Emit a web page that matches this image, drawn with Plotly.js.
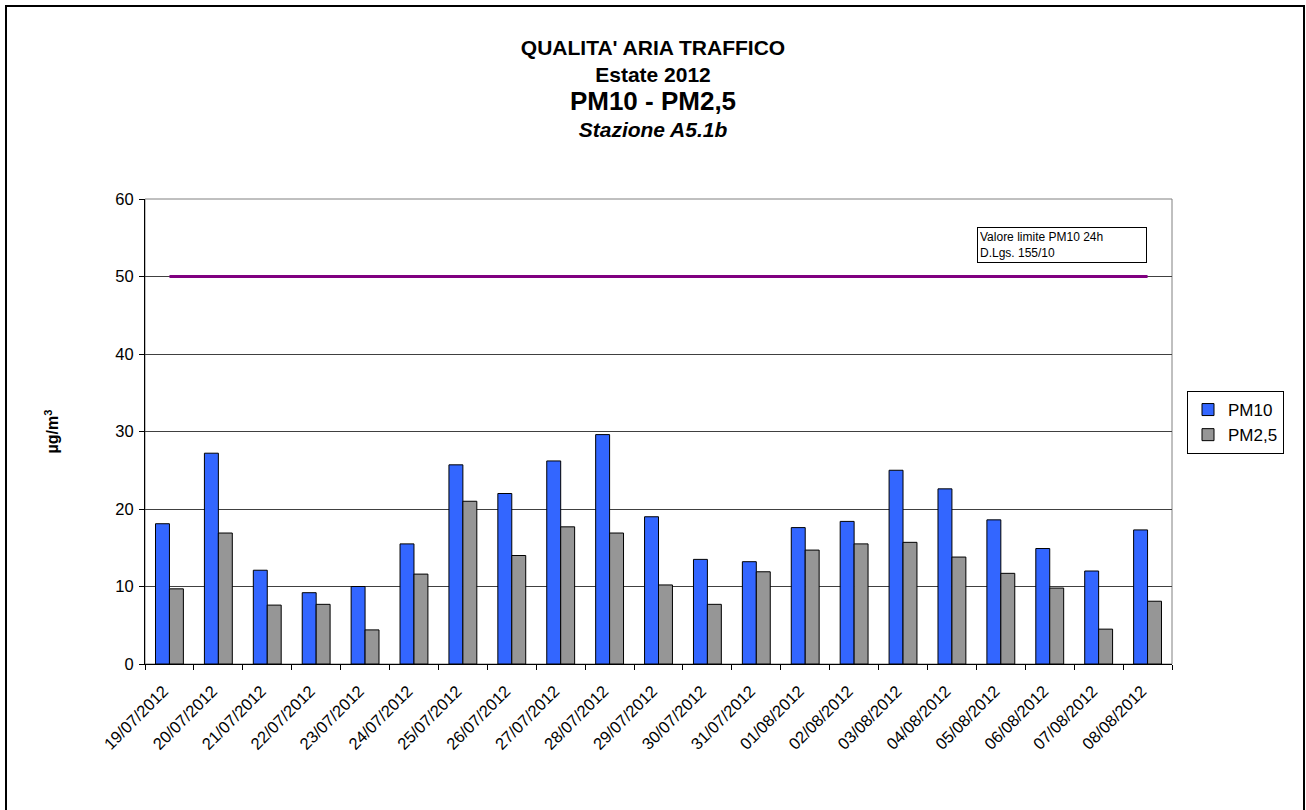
<!DOCTYPE html>
<html>
<head>
<meta charset="utf-8">
<script src="https://cdn.plot.ly/plotly-3.0.1.min.js"></script>
<style>
  html, body { margin: 0; padding: 0; background: #ffffff; }
  #chart { width: 1306px; height: 810px; }
</style>
</head>
<body>
<div id="chart"></div>
<script>
// ---- data ----
const dates = [
  "19/07/2012", "20/07/2012", "21/07/2012", "22/07/2012", "23/07/2012",
  "24/07/2012", "25/07/2012", "26/07/2012", "27/07/2012", "28/07/2012",
  "29/07/2012", "30/07/2012", "31/07/2012", "01/08/2012", "02/08/2012",
  "03/08/2012", "04/08/2012", "05/08/2012", "06/08/2012", "07/08/2012",
  "08/08/2012"
];
const pm10 = [18.1, 27.2, 12.1, 9.2, 10.0, 15.5, 25.7, 22.0, 26.2, 29.6, 19.0,
              13.5, 13.2, 17.6, 18.4, 25.0, 22.6, 18.6, 14.9, 12.0, 17.3];
const pm25 = [9.7, 16.9, 7.6, 7.7, 4.4, 11.6, 21.0, 14.0, 17.7, 16.9, 10.2,
              7.7, 11.9, 14.7, 15.5, 15.7, 13.8, 11.7, 9.8, 4.5, 8.1];
const limitValue = 50;
const limitSeries = dates.map(() => limitValue);
const yTicks = [0, 10, 20, 30, 40, 50, 60];

// ---- layout helpers (pixel -> paper) ----
const W = 1306, H = 810;
const M = { l: 145, r: 134, t: 199, b: 146 };
const PW = W - M.l - M.r, PH = H - M.t - M.b;
const px = x => (x - M.l) / PW;
const py = y => (H - M.b - y) / PH;

const FONT = "Liberation Sans, Arial, sans-serif";

const traces = [
  {
    type: "bar", name: "PM10", x: dates, y: pm10,
    marker: { color: "#3366FF", line: { color: "#000000", width: 1 } },
    hoverinfo: "x+y+name"
  },
  {
    type: "bar", name: "PM2,5", x: dates, y: pm25,
    marker: { color: "#969696", line: { color: "#000000", width: 1 } },
    hoverinfo: "x+y+name"
  },
  {
    type: "scatter", mode: "lines", name: "Valore limite PM10 24h",
    x: dates, y: limitSeries, showlegend: false,
    line: { color: "#800080", width: 3 }
  }
];

const layout = {
  width: W, height: H,
  margin: M,
  paper_bgcolor: "#ffffff",
  plot_bgcolor: "#ffffff",
  font: { family: FONT, color: "#000000", size: 16 },
  title: {
    text: "<b>QUALITA' ARIA TRAFFICO</b><br><b>Estate 2012</b><br>" +
          "<b><span style='font-size:26px'>PM10 - PM2,5</span></b><br><b><i>Stazione A5.1b</i></b>",
    font: { family: FONT, size: 21, color: "#000000" },
    x: 0.5, xref: "container", xanchor: "center",
    y: 1 - 55 / H, yref: "container", yanchor: "top"
  },
  barmode: "group",
  bargap: 0.43,
  bargroupgap: 0,
  showlegend: true,
  legend: {
    x: px(1187), y: py(391), xanchor: "left", yanchor: "top",
    bordercolor: "#000000", borderwidth: 1, bgcolor: "#ffffff",
    font: { family: FONT, size: 17, color: "#000000" },
    traceorder: "normal", itemwidth: 30
  },
  xaxis: {
    type: "category",
    tickangle: -45,
    tickson: "boundaries",
    ticks: "outside", ticklen: 5, tickcolor: "#000000", tickwidth: 1,
    showline: true, linecolor: "#000000", linewidth: 1,
    showgrid: false, zeroline: false,
    tickfont: { family: FONT, size: 16.5, color: "#000000" },
    ticklabelstandoff: 10,
    ticklabelshift: -6,
    automargin: false
  },
  yaxis: {
    range: [0, 60],
    tickvals: yTicks,
    ticks: "outside", ticklen: 5, tickcolor: "#000000", tickwidth: 1,
    showline: true, linecolor: "#000000", linewidth: 1,
    showgrid: true, gridcolor: "#404040", gridwidth: 1,
    zeroline: false,
    tickfont: { family: FONT, size: 16.5, color: "#000000" },
    ticklabelstandoff: 2,
    title: {
      text: "<b>µg/m<sup>3</sup></b>",
      font: { family: FONT, size: 16, color: "#000000" },
      standoff: 52
    },
    automargin: false
  },
  shapes: [
    // plot area frame (grey)
    { type: "rect", xref: "paper", yref: "paper", x0: 0, x1: 1, y0: 0, y1: 1,
      line: { color: "#808080", width: 1 }, layer: "below" },
    // outer chart border (cut off at the bottom)
    { type: "rect", xref: "paper", yref: "paper",
      x0: px(6), x1: px(1304), y0: py(840), y1: py(6),
      line: { color: "#000000", width: 2 }, fillcolor: "rgba(0,0,0,0)" }
  ],
  annotations: [
    {
      xref: "paper", yref: "paper",
      x: px(977), y: py(227), xanchor: "left", yanchor: "top",
      text: "Valore limite PM10 24h<br>D.Lgs. 155/10",
      align: "left", showarrow: false,
      font: { family: FONT, size: 12, color: "#000000" },
      bordercolor: "#000000", borderwidth: 1, borderpad: 2,
      bgcolor: "#ffffff",
      width: 164, height: 30, valign: "middle"
    }
  ]
};

Plotly.newPlot("chart", traces, layout, { displayModeBar: false, staticPlot: true });
</script>
</body>
</html>
